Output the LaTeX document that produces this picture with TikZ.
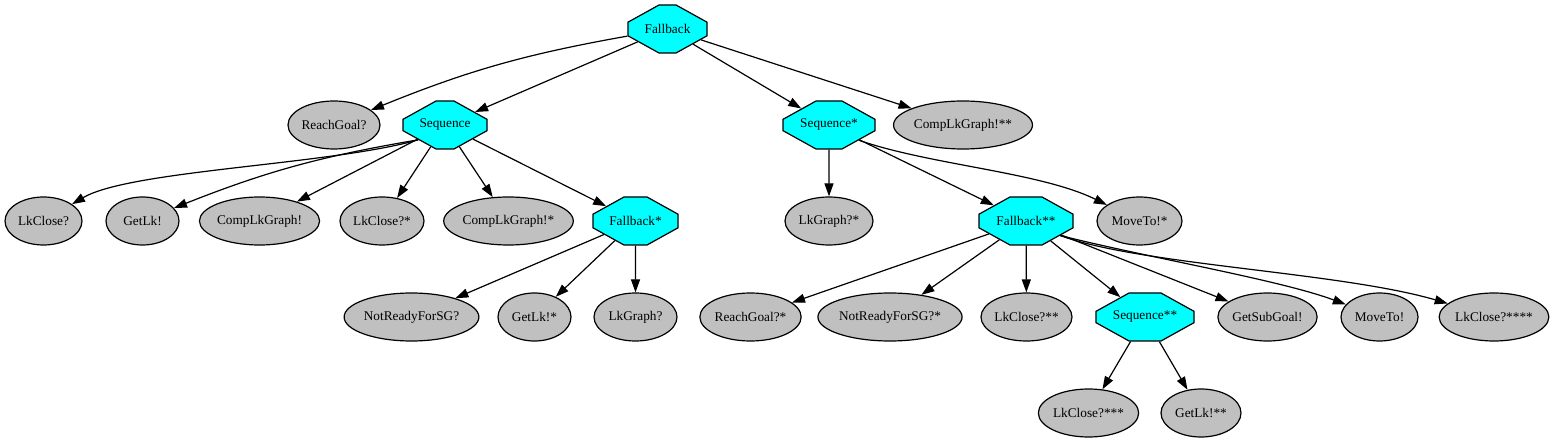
\documentclass[tikz,border=0pt]{standalone}
\usepackage{fontspec}
\setmainfont{Liberation Serif}
\usetikzlibrary{shapes.misc,shapes.geometric,arrows.meta}
\begin{document}
\begin{tikzpicture}[x=1pt,y=1pt,line width=1.2pt,>={Triangle[length=13pt,width=9pt]}]
\tikzset{feuille/.style = {draw,
                           shape          = ellipse,
                           fill           = gris,
                           inner sep      = 0pt,
                           minimum height = 48pt,
                           minimum width  = #1,
                           font           = \fontsize{13.3}{16}\selectfont},
         ctrl/.style    = {draw,
                           shape          = chamfered rectangle,
                           chamfered rectangle angle = 61,
                           chamfered rectangle xsep = 0.29*#1,
                           chamfered rectangle ysep = 12.5pt,
                           fill           = cyan,
                           inner sep      = 0pt,
                           minimum height = 48pt,
                           minimum width  = #1,
                           font           = \fontsize{13.3}{16}\selectfont}}
\definecolor{gris}{RGB}{192,192,192}
\definecolor{cyan}{RGB}{0,255,255}
\useasboundingbox (0,0) rectangle (1552,-443);
% racine et niveau 1
\node[ctrl=79pt]     (R)   at (667.5,-29)  {Fallback};
\node[feuille=92pt]  (A1)  at (334,-125)   {ReachGoal?};
\node[ctrl=84pt]     (A2)  at (445,-125)   {Sequence};
\node[ctrl=92pt]     (A3)  at (829,-125)   {Sequence*};
\node[feuille=130pt] (A4)  at (963,-125)   {CompLkGraph!**};
% niveau 2
\node[feuille=77pt]  (B1)  at (43.5,-221)  {LkClose?};
\node[feuille=73pt]  (B2)  at (142.5,-221) {GetLk!};
\node[feuille=115pt] (B3)  at (259.5,-221) {CompLkGraph!};
\node[feuille=84pt]  (B4)  at (382,-221)   {LkClose?*};
\node[feuille=121pt] (B5)  at (508.5,-221) {CompLkGraph!*};
\node[ctrl=85pt]     (B6)  at (635.5,-221) {Fallback*};
\node[feuille=88pt]  (B7)  at (829,-221)   {LkGraph?*};
\node[ctrl=94pt]     (B8)  at (1026,-221)  {Fallback**};
\node[feuille=85pt]  (B9)  at (1139.5,-221){MoveTo!*};
% niveau 3
\node[feuille=125pt] (C1)  at (411.5,-317) {NotReadyForSG?};
\node[feuille=73pt]  (C2)  at (534.5,-317) {GetLk!*};
\node[feuille=83pt]  (C3)  at (635.5,-317) {LkGraph?};
\node[feuille=99pt]  (C4)  at (750.5,-317) {ReachGoal?*};
\node[feuille=132pt] (C5)  at (890,-317)   {NotReadyForSG?*};
\node[feuille=91pt]  (C6)  at (1026.5,-317){LkClose?**};
\node[ctrl=98pt]     (C7)  at (1145,-317)  {Sequence**};
\node[feuille=99pt]  (C8)  at (1267.5,-317){GetSubGoal!};
\node[feuille=77pt]  (C9)  at (1379.5,-317){MoveTo!};
\node[feuille=104pt] (C10) at (1494,-317)  {LkClose?****};
% niveau 4
\node[feuille=99pt]  (D1)  at (1088.5,-413){LkClose?***};
\node[feuille=80pt]  (D2)  at (1201,-413)  {GetLk!**};
% aretes
\draw[->] (R) to[bend right=6] (A1);
\draw[->] (R) -- (A2);
\draw[->] (R) -- (A3);
\draw[->] (R) -- (A4);
\draw[->] (A2.209) .. controls (330,-165) and (130,-170) .. (B1);
\draw[->] (A2.209) to[bend right=6] (B2);
\draw[->] (A2) -- (B3);
\draw[->] (A2) -- (B4);
\draw[->] (A2) -- (B5);
\draw[->] (A2) -- (B6);
\draw[->] (B6) -- (C1);
\draw[->] (B6) -- (C2);
\draw[->] (B6) -- (C3);
\draw[->] (A3) -- (B7);
\draw[->] (A3) -- (B8);
\draw[->] (A3.-27) .. controls (930,-165) and (1040,-172) .. (B9);
\draw[->] (B8) -- (C4);
\draw[->] (B8) -- (C5);
\draw[->] (B8) -- (C6);
\draw[->] (B8) -- (C7);
\draw[->] (B8) -- (C8);
\draw[->] (B8.-23) .. controls (1150,-258) and (1280,-280) .. (C9);
\draw[->] (B8.-23) .. controls (1140,-265) and (1340,-272) .. (C10);
\draw[->] (C7) -- (D1);
\draw[->] (C7) -- (D2);
\end{tikzpicture}
\end{document}
